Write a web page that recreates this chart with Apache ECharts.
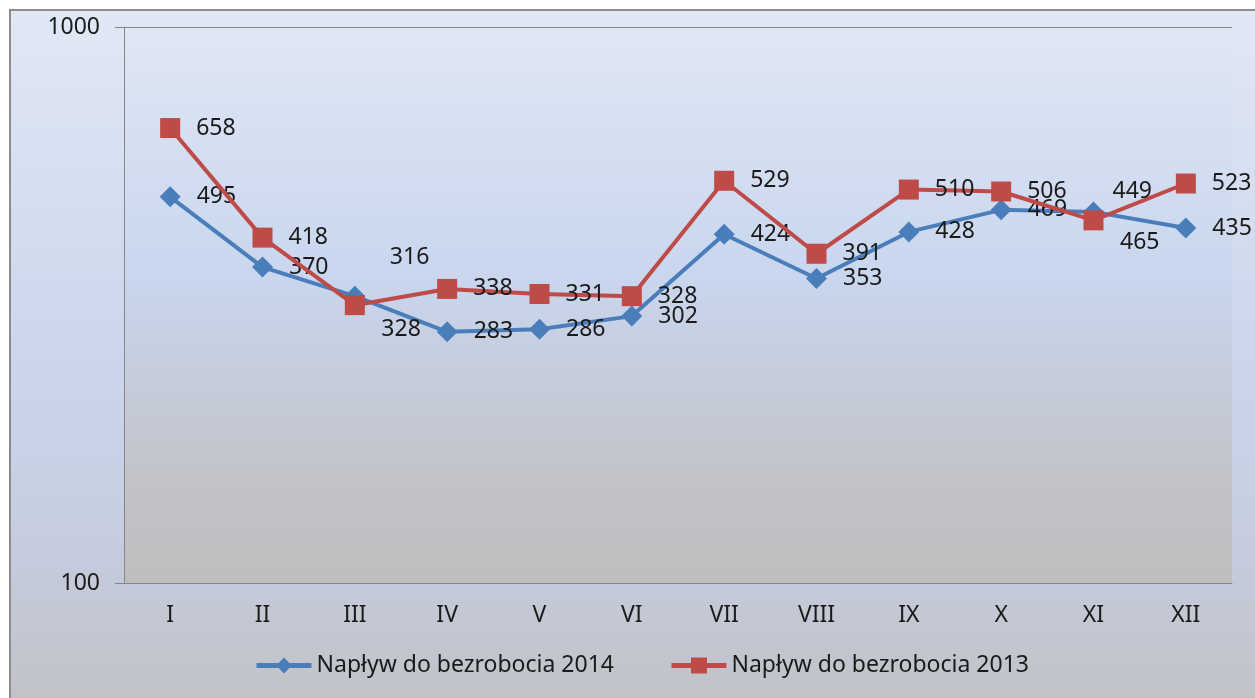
<!DOCTYPE html>
<html style="height: 100%">
  <head>
    <meta charset="utf-8" />
  </head>
  <body style="height: 100%; margin: 0; background: #fff">
    <div id="container" style="width: 1255px; height: 698px"></div>

    <script
      type="text/javascript"
      src="https://cdn.jsdelivr.net/npm/echarts@6/dist/echarts.min.js"
    ></script>

    <script type="text/javascript">
      var months = ["I", "II", "III", "IV", "V", "VI", "VII", "VIII", "IX", "X", "XI", "XII"];
      var name2014 = "Napływ do bezrobocia 2014";
      var name2013 = "Napływ do bezrobocia 2013";
      var values2014 = [495, 370, 328, 283, 286, 302, 424, 353, 428, 469, 465, 435];
      var values2013 = [658, 418, 316, 338, 331, 328, 529, 391, 510, 506, 449, 523];

      // labels that were moved by hand in the original (index -> offset)
      var moved2014 = { 2: [0, 33], 10: [0, 31] };
      var moved2013 = { 2: [9, -48], 10: [-7, -29] };

      var FONT = "Noto Sans";

      function withLabels(values, moved) {
        return values.map(function (v, i) {
          var item = { value: v };
          if (moved[i]) {
            item.label = { offset: moved[i] };
          }
          return item;
        });
      }

      var dom = document.getElementById("container");
      var myChart = echarts.init(dom);

      var option = {
        animation: false,
        textStyle: { fontFamily: FONT },
        graphic: [
          {
            type: "rect",
            silent: true,
            z: -100,
            shape: { x: 10, y: 10, width: 1260, height: 700 },
            style: {
              fill: new echarts.graphic.LinearGradient(0, 0, 0, 1, [
                { offset: 0, color: "#e1e8f5" },
                { offset: 0.5, color: "#cbd6ec" },
                { offset: 0.75, color: "#c6cde0" },
                { offset: 1, color: "#c1c2c6" }
              ]),
              stroke: "#8c8c8c",
              lineWidth: 2
            }
          }
        ],
        grid: {
          left: 124,
          right: 23,
          top: 27,
          bottom: 115,
          show: true,
          borderWidth: 0,
          backgroundColor: new echarts.graphic.LinearGradient(0, 0, 0, 1, [
            { offset: 0, color: "#e0e7f4" },
            { offset: 0.45, color: "#c9d6ee" },
            { offset: 0.8, color: "#c2c4ca" },
            { offset: 1, color: "#bebebe" }
          ])
        },
        legend: {
          bottom: 21,
          left: 254,
          padding: 0,
          itemWidth: 55,
          itemHeight: 20,
          itemGap: 55,
          lineStyle: { width: 5 },
          textStyle: { fontFamily: FONT, fontSize: 23, color: "#1a1a1a" },
          data: [name2014, name2013]
        },
        xAxis: {
          type: "category",
          data: months,
          boundaryGap: true,
          axisLine: { lineStyle: { color: "#868686" } },
          axisTick: { length: 8, lineStyle: { color: "#868686" } },
          axisLabel: { margin: 21, fontSize: 23, color: "#1a1a1a", fontFamily: FONT }
        },
        yAxis: {
          type: "log",
          logBase: 10,
          min: 100,
          max: 1000,
          axisLine: { show: true, lineStyle: { color: "#868686" } },
          axisTick: { show: true, length: 9, lineStyle: { color: "#868686" } },
          splitLine: { show: true, lineStyle: { color: "#868686" } },
          axisLabel: {
            margin: 24,
            fontSize: 23,
            color: "#1a1a1a",
            fontFamily: FONT,
            formatter: function (v) {
              return String(Math.round(v));
            }
          }
        },
        series: [
          {
            name: name2014,
            type: "line",
            data: withLabels(values2014, moved2014),
            symbol: "diamond",
            symbolSize: 21,
            z: 3,
            lineStyle: { width: 4, color: "#4a7ebb" },
            itemStyle: { color: "#4a7ebb" },
            label: {
              show: true,
              position: "right",
              distance: 16,
              fontSize: 23,
              fontFamily: FONT,
              color: "#1a1a1a"
            }
          },
          {
            name: name2013,
            type: "line",
            data: withLabels(values2013, moved2013),
            symbol: "rect",
            symbolSize: 20,
            z: 4,
            lineStyle: { width: 4, color: "#be4b48" },
            itemStyle: { color: "#be4b48" },
            label: {
              show: true,
              position: "right",
              distance: 16,
              fontSize: 23,
              fontFamily: FONT,
              color: "#1a1a1a"
            }
          }
        ]
      };

      myChart.setOption(option);
    </script>
  </body>
</html>
